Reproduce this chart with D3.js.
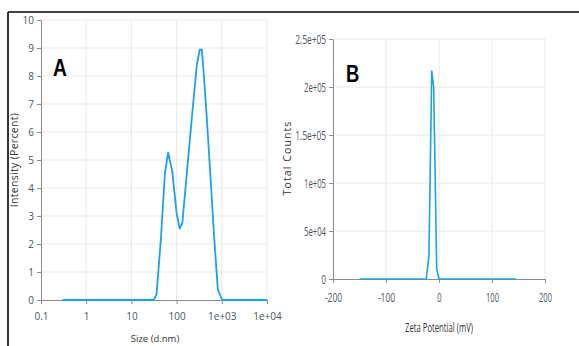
<!DOCTYPE html>
<html>
<head>
<meta charset="utf-8">
<script src="https://d3js.org/d3.v7.min.js"></script>
<style>
body { margin: 0; background: #fff; }
svg { display: block; }
.tick text { fill: #4b5363; }
</style>
</head>
<body>
<svg id="fig" width="579" height="346"></svg>
<script>
// panel A: size distribution
var sizeX = [0.3, 10, 31, 36, 45, 55, 65, 80, 100, 117, 134, 170, 223, 280, 324, 360, 398, 470, 557, 680, 818, 1020, 10000];
var sizeY = [0, 0, 0, 0.2, 2.2, 4.5, 5.26, 4.6, 3.1, 2.55, 2.75, 4.6, 6.7, 8.4, 8.93, 8.95, 8.1, 6.4, 4.5, 2.2, 0.37, 0, 0];
var sizeTicks = [0.1, 1, 10, 100, 1000, 10000];
var sizeTickLabels = ["0.1", "1", "10", "100", "1e+03", "1e+04"];
var intensityTicks = [0, 1, 2, 3, 4, 5, 6, 7, 8, 9, 10];

// panel B: zeta potential
var zetaX = [-150, -24, -19, -13.7, -10, -4.3, 0, 145];
var zetaY = [0, 0, 24000, 216500, 200000, 10000, 0, 0];
var zetaTicks = [-200, -100, 0, 100, 200];
var zetaTickLabels = ["-200", "-100", "0", "100", "200"];
var countTicks = [0, 50000, 100000, 150000, 200000, 250000];
var countTickLabels = ["0", "5e+04", "1e+05", "1.5e+05", "2e+05", "2.5e+05"];

var svg = d3.select("#fig");
var lineColor = "#1ea1e8";
var gridColor = "#e9e9e9";

// frame
svg.append("line").attr("x1", 8).attr("x2", 579).attr("y1", 12).attr("y2", 12)
  .attr("stroke", "#000").attr("stroke-width", 1.6);
svg.append("line").attr("x1", 8).attr("x2", 8).attr("y1", 12).attr("y2", 346)
  .attr("stroke", "#000").attr("stroke-width", 1.6);

function styleAxis(g) {
  g.select(".domain").attr("stroke", "#8a8a8a");
  g.selectAll(".tick line").attr("stroke", "#8a8a8a");
}

// narrow labels for panel B
function narrow(sel, perChar) {
  sel.attr("textLength", function () { return this.textContent.length * perChar; })
    .attr("lengthAdjust", "spacingAndGlyphs");
}

// ---- A ----
var xA = d3.scaleLog().domain([0.1, 10000]).range([41, 267]);
var yA = d3.scaleLinear().domain([0, 10]).range([300, 20]);

var gA = svg.append("g");
gA.selectAll("line.vg").data(sizeTicks.slice(1)).enter().append("line")
  .attr("x1", d => xA(d)).attr("x2", d => xA(d)).attr("y1", yA(10)).attr("y2", yA(0))
  .attr("stroke", gridColor);
gA.selectAll("line.hg").data(intensityTicks.slice(1)).enter().append("line")
  .attr("x1", xA(0.1)).attr("x2", xA(10000)).attr("y1", d => yA(d)).attr("y2", d => yA(d))
  .attr("stroke", gridColor);

gA.append("g").attr("transform", "translate(0," + yA(0) + ")")
  .call(d3.axisBottom(xA).tickValues(sizeTicks).tickSize(4).tickSizeOuter(0)
    .tickFormat((d, i) => sizeTickLabels[i]))
  .call(styleAxis)
  .call(g => g.selectAll("text").attr("font-family", "Open Sans, sans-serif").attr("font-size", 10).attr("dy", "1.3em"));
gA.append("g").attr("transform", "translate(" + xA(0.1) + ",0)")
  .call(d3.axisLeft(yA).tickValues(intensityTicks).tickSize(4).tickSizeOuter(0))
  .call(styleAxis)
  .call(g => g.selectAll("text").attr("font-family", "Open Sans, sans-serif").attr("font-size", 10));

gA.append("path")
  .datum(sizeX.map((d, i) => [d, sizeY[i]]))
  .attr("fill", "none").attr("stroke", lineColor).attr("stroke-width", 1.8)
  .attr("stroke-linejoin", "round")
  .attr("d", d3.line().x(d => xA(d[0])).y(d => yA(d[1])));

gA.append("text").attr("x", 155).attr("y", 342).attr("text-anchor", "middle")
  .attr("font-family", "Open Sans, sans-serif").attr("font-size", 9.5).attr("fill", "#333")
  .text("Size (d.nm)");
gA.append("text").attr("transform", "translate(18,160) rotate(-90)").attr("text-anchor", "middle")
  .attr("font-family", "Open Sans, sans-serif").attr("font-size", 10.5).attr("fill", "#333")
  .attr("letter-spacing", 0.3)
  .text("Intensity (Percent)");
gA.append("text").attr("x", 53).attr("y", 76)
  .attr("font-family", "Liberation Sans, sans-serif").attr("font-weight", "bold").attr("font-size", 24)
  .attr("transform", "translate(53,76) scale(0.8,1) translate(-53,-76)")
  .text("A");

// ---- B ----
var xB = d3.scaleLinear().domain([-200, 200]).range([333, 545]);
var yB = d3.scaleLinear().domain([0, 250000]).range([279, 39]);

var gB = svg.append("g");
gB.selectAll("line.vg").data(zetaTicks.slice(1)).enter().append("line")
  .attr("x1", d => xB(d)).attr("x2", d => xB(d)).attr("y1", yB(250000)).attr("y2", yB(0))
  .attr("stroke", gridColor);
gB.selectAll("line.hg").data(countTicks.slice(1)).enter().append("line")
  .attr("x1", xB(-200)).attr("x2", xB(200)).attr("y1", d => yB(d)).attr("y2", d => yB(d))
  .attr("stroke", gridColor);

var bFont = "Open Sans, sans-serif";
gB.append("g").attr("transform", "translate(0," + yB(0) + ")")
  .call(d3.axisBottom(xB).tickValues(zetaTicks).tickSize(4).tickSizeOuter(0)
    .tickFormat((d, i) => zetaTickLabels[i]))
  .call(styleAxis)
  .call(g => g.selectAll("text").attr("font-family", bFont).attr("font-size", 13).attr("dy", "1.2em")
    .call(narrow, 4.3));
gB.append("g").attr("transform", "translate(" + xB(-200) + ",0)")
  .call(d3.axisLeft(yB).tickValues(countTicks).tickSize(4).tickSizeOuter(0)
    .tickFormat((d, i) => countTickLabels[i]))
  .call(styleAxis)
  .call(g => g.selectAll("text").attr("font-family", bFont).attr("font-size", 12.5)
    .call(narrow, 4.4));

gB.append("path")
  .datum(zetaX.map((d, i) => [d, zetaY[i]]))
  .attr("fill", "none").attr("stroke", lineColor).attr("stroke-width", 1.6)
  .attr("stroke-linejoin", "round")
  .attr("d", d3.line().x(d => xB(d[0])).y(d => yB(d[1])));

gB.append("text").attr("x", 439).attr("y", 332).attr("text-anchor", "middle")
  .attr("font-family", bFont).attr("font-size", 12).attr("fill", "#333")
  .attr("textLength", 68).attr("lengthAdjust", "spacingAndGlyphs")
  .text("Zeta Potential (mV)");
gB.append("text").attr("transform", "translate(291,158) rotate(-90)").attr("text-anchor", "middle")
  .attr("font-family", bFont).attr("font-size", 10.5).attr("fill", "#333")
  .attr("letter-spacing", 1.1)
  .text("Total Counts");
gB.append("text").attr("x", 346).attr("y", 82)
  .attr("font-family", "Liberation Sans, sans-serif").attr("font-weight", "bold").attr("font-size", 23)
  .attr("transform", "translate(346,82) scale(0.8,1) translate(-346,-82)")
  .text("B");
</script>
</body>
</html>
